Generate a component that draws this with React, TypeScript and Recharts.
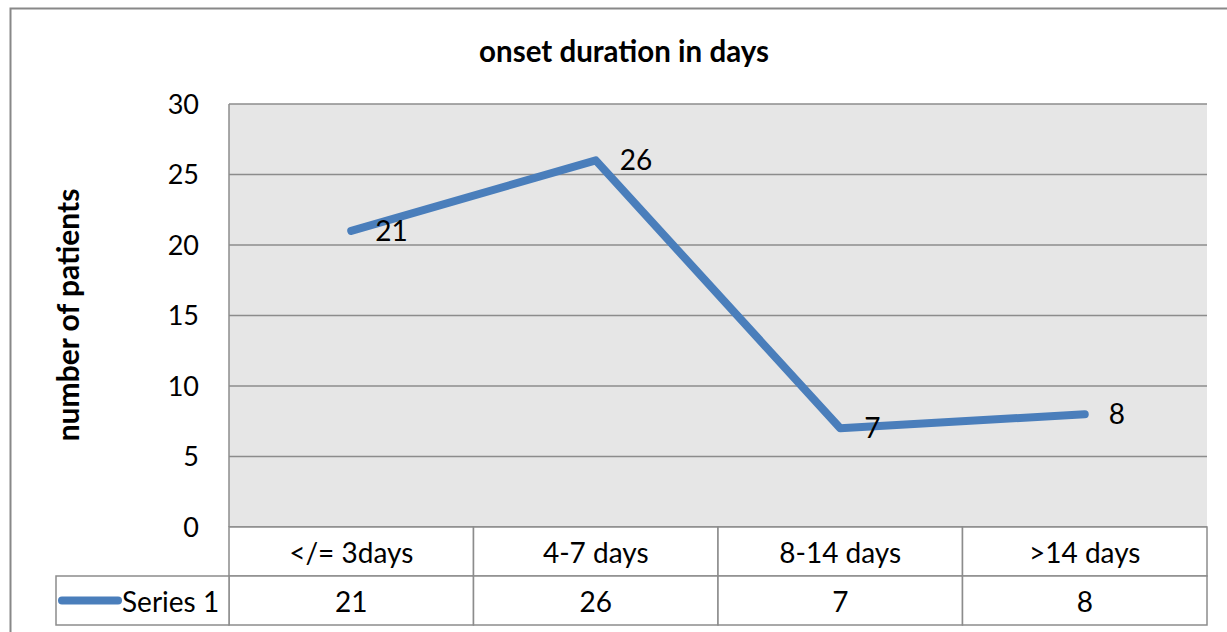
import React from 'react';
import { LineChart, Line, XAxis, YAxis, CartesianGrid, LabelList } from 'recharts';

const categories: string[] = ['</= 3days', '4-7 days', '8-14 days', '>14 days'];
const series1: number[] = [21, 26, 7, 8];
const yTicks: number[] = [0, 5, 10, 15, 20, 25, 30];

const chartData = categories.map((name, i) => ({ name, value: series1[i] }));

const W = 1227;
const H = 632;
const PLOT_LEFT = 229;
const PLOT_RIGHT = 1207;
const PLOT_TOP = 104;
const PLOT_BOTTOM = 527;
const ROW_H = 49;
const LEGEND_LEFT = 56;
const CELL_W = (PLOT_RIGHT - PLOT_LEFT) / categories.length;

const FONT = 'Lato, "Open Sans", sans-serif';
const BORDER = '#8c8c8c';
const BLUE = '#4a7ebb';
const TXT = 28;

const TableTick = (props: any) => {
  const { x, payload } = props;
  const i = payload.index;
  const top = PLOT_BOTTOM;
  const left = x - CELL_W / 2;
  return (
    <g>
      <rect x={left} y={top} width={CELL_W} height={ROW_H} fill="#fff" stroke={BORDER} strokeWidth={1.5} />
      <text x={x} y={top + ROW_H / 2} textAnchor="middle" dominantBaseline="central" fontSize={TXT} fontFamily={FONT} fill="#000">
        {payload.value}
      </text>
      <rect x={left} y={top + ROW_H} width={CELL_W} height={ROW_H} fill="#fff" stroke={BORDER} strokeWidth={1.5} />
      <text x={x} y={top + ROW_H * 1.5} textAnchor="middle" dominantBaseline="central" fontSize={TXT} fontFamily={FONT} fill="#000">
        {series1[i]}
      </text>
      {i === 0 && (
        <g>
          <rect x={LEGEND_LEFT} y={top + ROW_H} width={left - LEGEND_LEFT} height={ROW_H} fill="#fff" stroke={BORDER} strokeWidth={1.5} />
          <line x1={LEGEND_LEFT + 6} x2={LEGEND_LEFT + 62} y1={top + ROW_H * 1.5} y2={top + ROW_H * 1.5} stroke={BLUE} strokeWidth={8} strokeLinecap="round" />
          <text x={LEGEND_LEFT + 66} y={top + ROW_H * 1.5} dominantBaseline="central" fontSize={TXT} fontFamily={FONT} fill="#000">
            Series 1
          </text>
        </g>
      )}
    </g>
  );
};

const YLabel = () => (
  <text
    x={67}
    y={315}
    transform="rotate(-90, 67, 315)"
    textAnchor="middle"
    dominantBaseline="central"
    fontSize={30}
    fontWeight="bold"
    fontFamily={FONT}
    fill="#000"
  >
    number of patients
  </text>
);

export default function App() {
  return (
    <div style={{ position: 'absolute', left: 0, top: 0, width: W, height: H, background: '#fff' }}>
      <LineChart
        width={W}
        height={H}
        data={chartData}
        margin={{ top: PLOT_TOP, right: W - PLOT_RIGHT, left: 0, bottom: H - PLOT_BOTTOM - ROW_H * 2 }}
      >
        <rect x={10.5} y={8.5} width={W + 20} height={H + 20} fill="none" stroke="#888" strokeWidth={2} />
        <text x={624} y={50} textAnchor="middle" dominantBaseline="central" fontSize={29.5} fontWeight="bold" fontFamily={FONT} fill="#000">
          onset duration in days
        </text>
        <YLabel />
        <CartesianGrid vertical={false} fill="#e6e6e6" stroke={BORDER} strokeWidth={1.5} />
        <XAxis
          dataKey="name"
          scale="band"
          interval={0}
          height={ROW_H * 2}
          axisLine={false}
          tickLine={false}
          tickSize={0}
          tickMargin={0}
          tick={<TableTick />}
        />
        <YAxis
          width={PLOT_LEFT}
          domain={[0, 30]}
          ticks={yTicks}
          axisLine={{ stroke: BORDER, strokeWidth: 1.5 }}
          tickLine={false}
          tickSize={0}
          tickMargin={30}
          tick={{ fontSize: 27, fontFamily: FONT, fill: '#000' }}
        />
        <Line
          type="linear"
          dataKey="value"
          stroke={BLUE}
          strokeWidth={8}
          strokeLinecap="round"
          strokeLinejoin="round"
          dot={false}
          activeDot={false}
          isAnimationActive={false}
        >
          <LabelList dataKey="value" position="right" offset={24} fontSize={TXT} fontFamily={FONT} fill="#000" />
        </Line>
      </LineChart>
    </div>
  );
}
